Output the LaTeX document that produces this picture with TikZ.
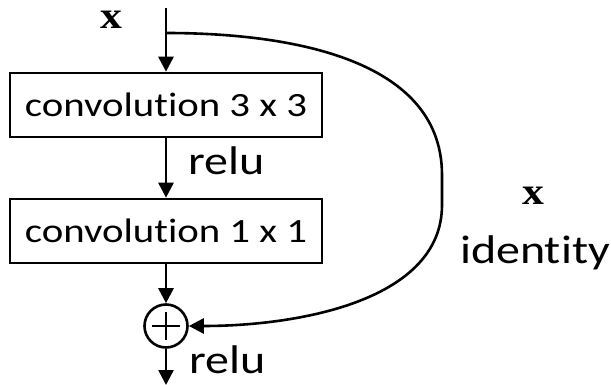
\documentclass[tikz,border=0pt]{standalone}
\usepackage{fontspec}
\setmainfont{Carlito}[FakeStretch=1.2,Ligatures={NoCommon}]
\newfontfamily\serifx{Liberation Serif}[FakeStretch=1.15]
\usetikzlibrary{arrows.meta}
\begin{document}
\begin{tikzpicture}[x=1pt,y=-1pt,
  line width=2.6pt,
  arr/.style={-{Triangle[length=15pt,width=15pt]}},
  layer/.style={draw,rectangle,minimum width=312pt,minimum height=64pt,inner sep=0pt,
    font=\fontsize{34}{38}\selectfont},
  lbl/.style={font=\fontsize{40}{44}\selectfont,inner sep=0pt},
  varx/.style={font=\serifx\bfseries\fontsize{38}{40}\selectfont,inner sep=0pt}]
\useasboundingbox (0,0) rectangle (611,385);
% input
\node[varx,anchor=base] (xin) at (111,29) {x};
\coordinate (top) at (166,8);
\coordinate (split) at (166,33);
% main path
\node[layer] (conv1) at (166,105) {convolution 3 x 3};
\node[layer] (conv2) at (166,231) {convolution 1 x 1};
\node[draw,circle,minimum size=43pt,inner sep=0pt] (add) at (166,326) {};
\draw[line width=2.2pt] ([xshift=-14pt]add.center) -- ([xshift=14pt]add.center);
\draw[line width=2.2pt] ([yshift=-14pt]add.center) -- ([yshift=14pt]add.center);
\coordinate (out) at (166,385);
\draw[arr] (top) -- (conv1.north);
\draw[arr] (conv1.south) -- (conv2.north);
\draw[arr] (conv2.south) -- (add.north);
\draw[arr] (add.south) -- (out);
\node[lbl,anchor=base west] (relu1) at (187,175) {relu};
\node[lbl,anchor=base west] (relu2) at (188,373) {relu};
% identity shortcut
\draw[arr] (split) .. controls (280,33) and (442,55) .. (442,175)
  -- (442,205) .. controls (442,300) and (300,326) .. (add.east);
\node[varx,anchor=base] (xid) at (533,205) {x};
\node[lbl,anchor=base] (ident) at (535,263) {identity};
\end{tikzpicture}
\end{document}
